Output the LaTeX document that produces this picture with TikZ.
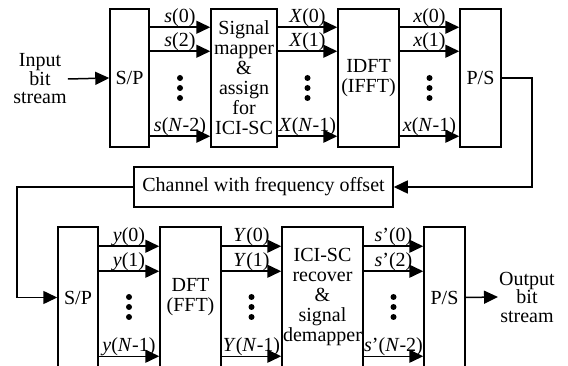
\documentclass[tikz,border=0pt]{standalone}
\usepackage{fontspec}
\setmainfont{Liberation Serif}
\usetikzlibrary{arrows.meta}

\tikzset{
  blk/.style={draw, line width=1.5pt, minimum width=#1, minimum height=138pt,
    inner sep=0pt, align=center, font=\fontsize{20}{20}\selectfont},
  sig/.style={line width=1.5pt, -{Triangle[length=14pt,width=13pt]}},
  lbl/.style={anchor=base, yshift=5pt, inner sep=0pt, font=\fontsize{20}{20}\selectfont},
  txt/.style={align=center, inner sep=1pt, font=\fontsize{20}{18.5}\selectfont},
}

\begin{document}
\begin{tikzpicture}[x=1pt, y=-1pt]
		\useasboundingbox (0,0) rectangle (568,366);

		% transmitter row
		\begin{scope}
			\node[txt] (in) at (40,79) {Input\\bit\\stream};
			\node[blk=39pt] (sp1) at (129.5,78) {S/P};
			\node[blk=66pt] (map) at (244,78) {Signal\\mapper\\\&\\assign\\for\\ICI-SC};
			\node[blk=61pt] (idft) at (368.5,78) {IDFT\\(IFFT)};
			\node[blk=41pt] (ps1) at (480.5,78) {P/S};

			\draw[sig] (in.east) -- (sp1.west);
			\foreach \dy/\t in {19/\textit{s}(0), 43/\textit{s}(2), 128/\textit{s}(\textit{N}-2)}
				\draw[sig] ([yshift=-\dy pt]sp1.north east) -- ([yshift=-\dy pt]map.north west) node[lbl, midway] {\t};
			\foreach \dy/\t in {19/\textit{X}(0), 43/\textit{X}(1), 128/\textit{X}(\textit{N}-1)}
				\draw[sig] ([yshift=-\dy pt]map.north east) -- ([yshift=-\dy pt]idft.north west) node[lbl, midway] {\t};
			\foreach \dy/\t in {19/\textit{x}(0), 43/\textit{x}(1), 128/\textit{x}(\textit{N}-1)}
				\draw[sig] ([yshift=-\dy pt]idft.north east) -- ([yshift=-\dy pt]ps1.north west) node[lbl, midway] {\t};
			\foreach \x in {180,307.5,429.5}
				\foreach \y in {78,88,98}
					\fill (\x,\y) circle (3pt);
		\end{scope}

		% channel
		\node[draw, line width=1.5pt, minimum width=259pt, minimum height=40pt, inner sep=0pt,
			font=\fontsize{20}{20}\selectfont] (ch) at (263.5,187) {Channel with frequency offset};
		\coordinate (r) at (532,187);
		\coordinate (l) at (17,187);

		% receiver row
		\begin{scope}
			\node[blk=40pt, minimum height=141pt] (sp2) at (78,297.5) {S/P};
			\node[blk=61pt, minimum height=141pt] (dft) at (190.5,297.5) {DFT\\(FFT)};
			\node[blk=81pt, minimum height=141pt] (ici) at (322.5,297.5) {ICI-SC\\recover\\\&\\signal\\demapper};
			\node[blk=41pt, minimum height=141pt] (ps2) at (444.5,297.5) {P/S};
			\node[txt] (out) at (527,297) {Output\\bit\\stream};

			\foreach \dy/\t in {20/\textit{y}(0), 45/\textit{y}(1), 130/\textit{y}(\textit{N}-1)}
				\draw[sig] ([yshift=-\dy pt]sp2.north east) -- ([yshift=-\dy pt]dft.north west) node[lbl, midway] {\t};
			\foreach \dy/\t in {20/\textit{Y}(0), 45/\textit{Y}(1), 130/\textit{Y}(\textit{N}-1)}
				\draw[sig] ([yshift=-\dy pt]dft.north east) -- ([yshift=-\dy pt]ici.north west) node[lbl, midway] {\t};
			\foreach \dy/\t in {20/\textit{s}'(0), 45/\textit{s}'(2), 130/\textit{s}'(\textit{N}-2)}
				\draw[sig] ([yshift=-\dy pt]ici.north east) -- ([yshift=-\dy pt]ps2.north west) node[lbl, midway] {\t};
			\foreach \x in {129,251.5,393.5}
				\foreach \y in {297,307,317}
					\fill (\x,\y) circle (3pt);
			\draw[sig] (ps2.east) -- (out.west);
		\end{scope}

		% feedback path through the channel
		\draw[sig] (ps1.east) -| (r) -- (ch.east);
		\draw[sig] (ch.west) -- (l) |- (sp2.west);

	\end{tikzpicture}
\end{document}
